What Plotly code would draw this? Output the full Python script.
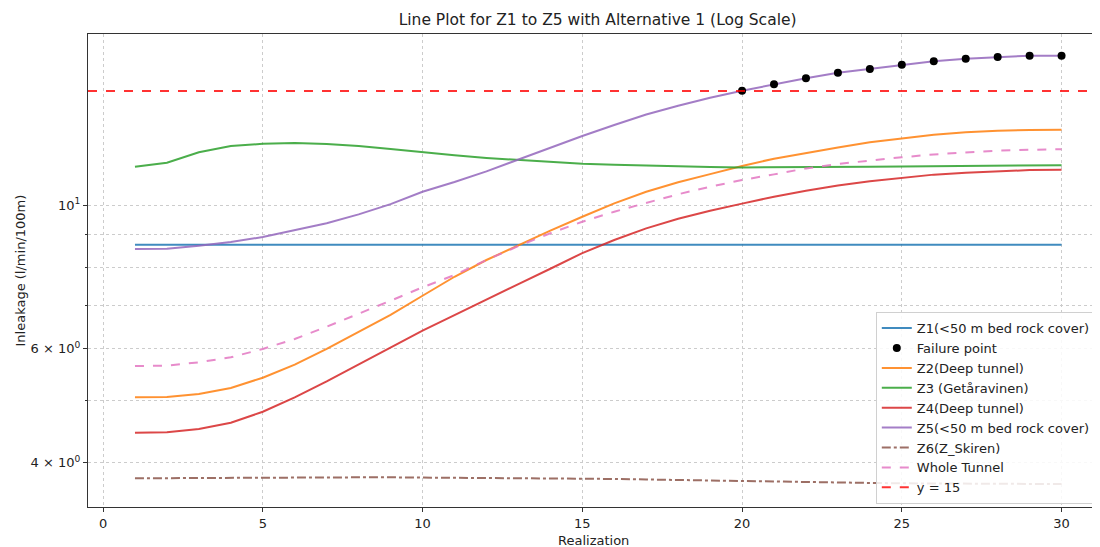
import plotly.graph_objects as go

realization = list(range(1, 31))

z1 = [8.68] * 30
z2 = [5.049, 5.055, 5.109, 5.220, 5.414, 5.670, 5.996, 6.368, 6.770, 7.244,
      7.750, 8.225, 8.675, 9.128, 9.592, 10.06, 10.48, 10.84, 11.16, 11.49,
      11.79, 12.04, 12.27, 12.50, 12.68, 12.84, 12.95, 13.02, 13.05, 13.07]
z3 = [11.46, 11.62, 12.06, 12.33, 12.43, 12.46, 12.42, 12.33, 12.20, 12.06,
      11.93, 11.82, 11.73, 11.65, 11.58, 11.54, 11.50, 11.47, 11.45, 11.43,
      11.43, 11.44, 11.45, 11.46, 11.47, 11.48, 11.49, 11.50, 11.51, 11.52]
z4 = [4.453, 4.459, 4.512, 4.614, 4.797, 5.049, 5.344, 5.670, 6.032, 6.398,
      6.763, 7.153, 7.551, 7.973, 8.430, 8.831, 9.205, 9.525, 9.799, 10.05,
      10.30, 10.52, 10.72, 10.88, 11.01, 11.14, 11.21, 11.28, 11.32, 11.34]
z5 = [8.553, 8.563, 8.654, 8.768, 8.925, 9.141, 9.371, 9.674, 10.03, 10.48,
      10.85, 11.27, 11.76, 12.24, 12.78, 13.29, 13.79, 14.23, 14.64, 15.01,
      15.36, 15.69, 16.00, 16.22, 16.46, 16.67, 16.82, 16.92, 17.00, 17.00]
z6 = [3.787, 3.790, 3.793, 3.796, 3.798, 3.800, 3.800, 3.800, 3.800, 3.798,
      3.796, 3.794, 3.791, 3.788, 3.784, 3.778, 3.771, 3.763, 3.755, 3.748,
      3.741, 3.735, 3.730, 3.725, 3.720, 3.717, 3.714, 3.712, 3.711, 3.710]
whole = [5.644, 5.650, 5.719, 5.821, 5.996, 6.213, 6.490, 6.787, 7.117, 7.464,
         7.798, 8.225, 8.644, 9.044, 9.424, 9.765, 10.08, 10.39, 10.67, 10.93,
         11.15, 11.39, 11.57, 11.72, 11.85, 11.97, 12.06, 12.13, 12.17, 12.19]
threshold = 15

fail_x = [r for r, v in zip(realization, z5) if v >= threshold]
fail_y = [v for v in z5 if v >= threshold]

y_tickvals = [4, 6, 10]
y_ticktext = ["4 × 10<sup>0</sup>", "6 × 10<sup>0</sup>", "10<sup>1</sup>"]
y_minor_vals = [5, 7, 8, 9]
x_tickvals = [0, 5, 10, 15, 20, 25, 30]

x_range = [-0.47, 31.14]
y_range = [0.534, 1.2639]

fig = go.Figure()

def line(x, y, name, color, dash="solid", rank=1):
    fig.add_trace(go.Scatter(x=x, y=y, mode="lines", name=name,
                             line=dict(color=color, width=2, dash=dash),
                             opacity=0.85, legendrank=rank))

line(realization, z1, "Z1(<50 m bed rock cover)", "#1f77b4", rank=1)
line(realization, z2, "Z2(Deep tunnel)", "#ff7f0e", rank=3)
line(realization, z3, "Z3 (Getåravinen)", "#2ca02c", rank=4)
line(realization, z4, "Z4(Deep tunnel)", "#d62728", rank=5)
line(realization, z5, "Z5(<50 m bed rock cover)", "#9467bd", rank=6)
line(realization, z6, "Z6(Z_Skiren)", "#8c564b", dash="dashdot", rank=7)
line(realization, whole, "Whole Tunnel", "#e377c2", dash="dash", rank=8)

fig.add_trace(go.Scatter(x=fail_x, y=fail_y, mode="markers", name="Failure point",
                         marker=dict(color="black", size=8), legendrank=2))

fig.add_trace(go.Scatter(x=x_range, y=[threshold, threshold], mode="lines", name="y = 15",
                         line=dict(color="red", width=2, dash="dash"), opacity=0.8,
                         legendrank=9))

axis_common = dict(showline=True, linecolor="#333333", linewidth=1, mirror=True,
                   ticks="outside", ticklen=4, tickcolor="#333333",
                   showgrid=True, gridcolor="#cccccc", griddash="dot", gridwidth=1,
                   zeroline=False, automargin=False,
                   tickfont=dict(family="DejaVu Sans", size=13, color="#222"))

fig.update_layout(
    width=1100, height=547,
    margin=dict(l=80, r=10, t=26, b=48),
    plot_bgcolor="white", paper_bgcolor="white",
    font=dict(family="DejaVu Sans", size=13, color="#222"),
    title=dict(text="Line Plot for Z1 to Z5 with Alternative 1 (Log Scale)",
               x=0.536, xanchor="center", y=0.978, yanchor="middle",
               font=dict(size=15.5, family="DejaVu Sans", color="#222")),
    xaxis=dict(range=x_range, tickvals=x_tickvals, **axis_common),
    yaxis=dict(type="log", range=y_range, tickvals=y_tickvals, ticktext=y_ticktext,
               minor=dict(tickvals=y_minor_vals, ticks="outside", ticklen=2,
                          tickcolor="#333333", showgrid=True, gridcolor="#cccccc",
                          griddash="dot", gridwidth=1),
               **axis_common),
    legend=dict(x=0.780, y=0.006, xanchor="left", yanchor="bottom",
                bgcolor="rgba(255,255,255,0.85)", bordercolor="#d0d0d0", borderwidth=1,
                font=dict(size=13, family="DejaVu Sans", color="#222"),
                tracegroupgap=0, itemwidth=30),
    showlegend=True,
    annotations=[
        dict(text="Realization", xref="paper", yref="paper", x=0.5, y=0,
             xanchor="center", yanchor="middle", yshift=-33, showarrow=False,
             font=dict(size=13, family="DejaVu Sans", color="#222")),
        dict(text="Inleakage (l/min/100m)", xref="paper", yref="paper", x=0, y=0.5,
             xanchor="center", yanchor="middle", xshift=-68, textangle=-90,
             showarrow=False, font=dict(size=13, family="DejaVu Sans", color="#222")),
    ],
)

fig.write_html("out.html")
